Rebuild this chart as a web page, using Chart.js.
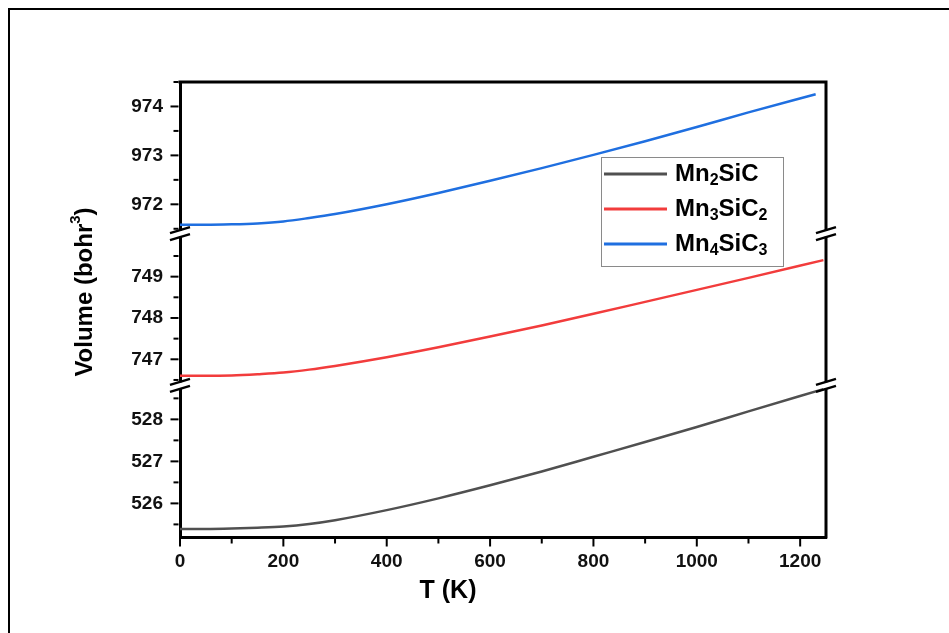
<!DOCTYPE html>
<html>
<head>
<meta charset="utf-8">
<script src="https://cdn.jsdelivr.net/npm/chart.js@4.4.0/dist/chart.umd.min.js"></script>
<style>
  body { margin: 0; background: #fff; }
  canvas { display: block; }
</style>
</head>
<body>
<canvas id="volumeChart" width="949" height="633"></canvas>
<script>
// Data (T in K, volume in bohr^3)
const temps = [0, 50, 100, 150, 200, 250, 300, 400, 500, 600, 700, 800, 900, 1000, 1100, 1245];
const tempsMn4 = [0, 50, 100, 150, 200, 250, 300, 400, 500, 600, 700, 800, 900, 1000, 1100, 1230];
const mn2SiC = [525.39, 525.39, 525.40, 525.42, 525.45, 525.51, 525.60, 525.84, 526.12, 526.43, 526.76, 527.11, 527.46, 527.82, 528.19, 528.72];
const mn3SiC2 = [746.60, 746.60, 746.61, 746.64, 746.68, 746.75, 746.84, 747.05, 747.29, 747.55, 747.82, 748.10, 748.39, 748.68, 748.97, 749.40];
const mn4SiC3 = [971.58, 971.58, 971.59, 971.61, 971.65, 971.72, 971.80, 972.00, 972.23, 972.48, 972.74, 973.01, 973.29, 973.58, 973.88, 974.25];

const seriesLabels = ['Mn2SiC', 'Mn3SiC2', 'Mn4SiC3'];
const seriesColors = ['#505050', '#f23c3c', '#1f6fe0'];

// y segments of the broken axis and their labelled ticks
const segBottom = [525.2, 528.81];
const segMiddle = [746.37, 750.04];
const segTop = [971.4, 974.5];
const ticksBottom = [526, 527, 528];
const ticksMiddle = [747, 748, 749];
const ticksTop = [972, 973, 974];

const xTicksMajor = 200;
const FONT = 'Arial, "Liberation Sans", sans-serif';

function toPoints(xs, ys) {
    return xs.map((x, i) => ({ x: x, y: ys[i] }));
}

function yScale(range, majors) {
    return {
        type: 'linear',
        position: 'left',
        stack: 'vol',
        stackWeight: 1,
        offset: false,
        min: range[0],
        max: range[1],
        grid: { drawOnChartArea: false, drawTicks: false },
        border: { display: true, color: '#000', width: 3 },
        ticks: {
            autoSkip: false,
            padding: 17,
            color: '#111',
            font: { family: FONT, size: 19, weight: 'bold' },
            callback: (v) => Number.isInteger(v) ? String(v) : ''
        },
        // labelled ticks plus a minor tick half way between them
        afterBuildTicks: (scale) => {
            const vals = [];
            majors.forEach(m => { vals.push(m - 0.5, m); });
            vals.push(majors[majors.length - 1] + 0.5);
            scale.ticks = vals.filter(v => v >= scale.min && v <= scale.max).map(v => ({ value: v }));
        },
        afterFit: (scale) => { scale.width = 180; }
    };
}

/**
 * Draws rich text where digits become sub- or superscripts
 */
function drawRich(ctx, parts, x, y) {
    let cx = x;
    parts.forEach(p => {
        ctx.font = 'bold ' + p.size + 'px ' + FONT;
        ctx.fillText(p.text, cx, y + (p.dy || 0));
        cx += ctx.measureText(p.text).width;
    });
    return cx - x;
}

function formulaParts(label) {
    return label.split(/(\d+)/).filter(s => s).map(s =>
        /\d/.test(s) ? { text: s, size: 16, dy: 7 } : { text: s, size: 24 });
}

function measureRich(ctx, parts) {
    let w = 0;
    parts.forEach(p => {
        ctx.font = 'bold ' + p.size + 'px ' + FONT;
        w += ctx.measureText(p.text).width;
    });
    return w;
}

function drawBreak(ctx, x, y) {
    ctx.save();
    ctx.fillStyle = '#fff';
    ctx.fillRect(x - 3, y - 3, 6, 6);
    ctx.strokeStyle = '#000';
    ctx.lineWidth = 2.5;
    [-3.5, 3.5].forEach(off => {
        ctx.beginPath();
        ctx.moveTo(x - 10, y + off + 3);
        ctx.lineTo(x + 10, y + off - 3);
        ctx.stroke();
    });
    ctx.restore();
}

const decorPlugin = {
    id: 'decor',
    afterDraw(chart) {
        const ctx = chart.ctx;
        const area = chart.chartArea;
        ctx.save();

        // frame: top and right axis lines
        ctx.strokeStyle = '#000';
        ctx.lineWidth = 3;
        ctx.beginPath();
        ctx.moveTo(area.left - 1.5, area.top);
        ctx.lineTo(area.right, area.top);
        ctx.lineTo(area.right, area.bottom + 1.5);
        ctx.stroke();

        // y tick marks (major on integers, minor on halves)
        ctx.lineWidth = 2;
        ['yBot', 'yMid', 'yTop'].forEach(id => {
            const s = chart.scales[id];
            s.ticks.forEach(t => {
                const len = Number.isInteger(t.value) ? 8 : 5;
                const py = s.getPixelForValue(t.value);
                ctx.beginPath();
                ctx.moveTo(area.left - 1.5, py);
                ctx.lineTo(area.left - 1.5 - len, py);
                ctx.stroke();
            });
        });

        // x tick marks
        const xs = chart.scales.x;
        xs.ticks.forEach(t => {
            const len = t.value % xTicksMajor === 0 ? 8 : 5;
            const px = xs.getPixelForValue(t.value);
            ctx.beginPath();
            ctx.moveTo(px, area.bottom + 1.5);
            ctx.lineTo(px, area.bottom + 1.5 + len);
            ctx.stroke();
        });

        // axis breaks
        const breaks = [chart.scales.yTop.bottom, chart.scales.yMid.bottom];
        breaks.forEach(by => {
            drawBreak(ctx, area.left, by);
            drawBreak(ctx, area.right, by);
        });

        // legend
        const lx = 601, ly = 157, lw = 182, lh = 109;
        ctx.strokeStyle = '#8a8a8a';
        ctx.lineWidth = 1;
        ctx.strokeRect(lx + 0.5, ly + 0.5, lw, lh);
        ctx.textBaseline = 'middle';
        ctx.textAlign = 'left';
        ctx.fillStyle = '#000';
        chart.data.datasets.forEach((ds, i) => {
            const rowY = ly + 17 + i * 35;
            ctx.strokeStyle = ds.borderColor;
            ctx.lineWidth = 3;
            ctx.beginPath();
            ctx.moveTo(lx + 3, rowY);
            ctx.lineTo(lx + 66, rowY);
            ctx.stroke();
            drawRich(ctx, formulaParts(ds.label), lx + 74, rowY);
        });

        // axis titles
        ctx.fillStyle = '#000';
        ctx.textAlign = 'center';
        ctx.font = 'bold 25px ' + FONT;
        ctx.fillText('T (K)', 448, 591);

        const yParts = [
            { text: 'Volume (bohr', size: 24 },
            { text: '3', size: 15, dy: -9 },
            { text: ')', size: 24 }
        ];
        ctx.save();
        ctx.translate(85, 292);
        ctx.rotate(-Math.PI / 2);
        ctx.textAlign = 'left';
        const w = measureRich(ctx, yParts);
        drawRich(ctx, yParts, -w / 2, 0);
        ctx.restore();

        // outer frame of the figure
        ctx.strokeStyle = '#000';
        ctx.lineWidth = 2;
        ctx.beginPath();
        ctx.moveTo(9, chart.height);
        ctx.lineTo(9, 9);
        ctx.lineTo(chart.width, 9);
        ctx.stroke();

        ctx.restore();
    }
};

const ctx = document.getElementById('volumeChart').getContext('2d');
new Chart(ctx, {
    type: 'line',
    data: {
        datasets: [
            { label: seriesLabels[0], data: toPoints(temps, mn2SiC), yAxisID: 'yBot', borderColor: seriesColors[0] },
            { label: seriesLabels[1], data: toPoints(temps, mn3SiC2), yAxisID: 'yMid', borderColor: seriesColors[1] },
            { label: seriesLabels[2], data: toPoints(tempsMn4, mn4SiC3), yAxisID: 'yTop', borderColor: seriesColors[2] }
        ].map(ds => Object.assign(ds, {
            borderWidth: 2.5,
            pointRadius: 0,
            fill: false,
            cubicInterpolationMode: 'monotone'
        }))
    },
    options: {
        responsive: false,
        animation: false,
        layout: { padding: { top: 82, right: 123, left: 0, bottom: 0 } },
        plugins: {
            legend: { display: false },
            tooltip: { enabled: false }
        },
        scales: {
            x: {
                type: 'linear',
                min: 0,
                max: 1250,
                grid: { drawOnChartArea: false, drawTicks: false },
                border: { display: true, color: '#000', width: 3 },
                ticks: {
                    stepSize: 100,
                    includeBounds: false,
                    autoSkip: false,
                    maxRotation: 0,
                    padding: 13,
                    color: '#111',
                    font: { family: FONT, size: 19, weight: 'bold' },
                    callback: (v) => v % xTicksMajor === 0 ? String(v) : ''
                },
                afterFit: (scale) => { scale.height = 96; }
            },
            yBot: yScale(segBottom, ticksBottom),
            yMid: yScale(segMiddle, ticksMiddle),
            yTop: yScale(segTop, ticksTop)
        }
    },
    plugins: [decorPlugin]
});
</script>
</body>
</html>
